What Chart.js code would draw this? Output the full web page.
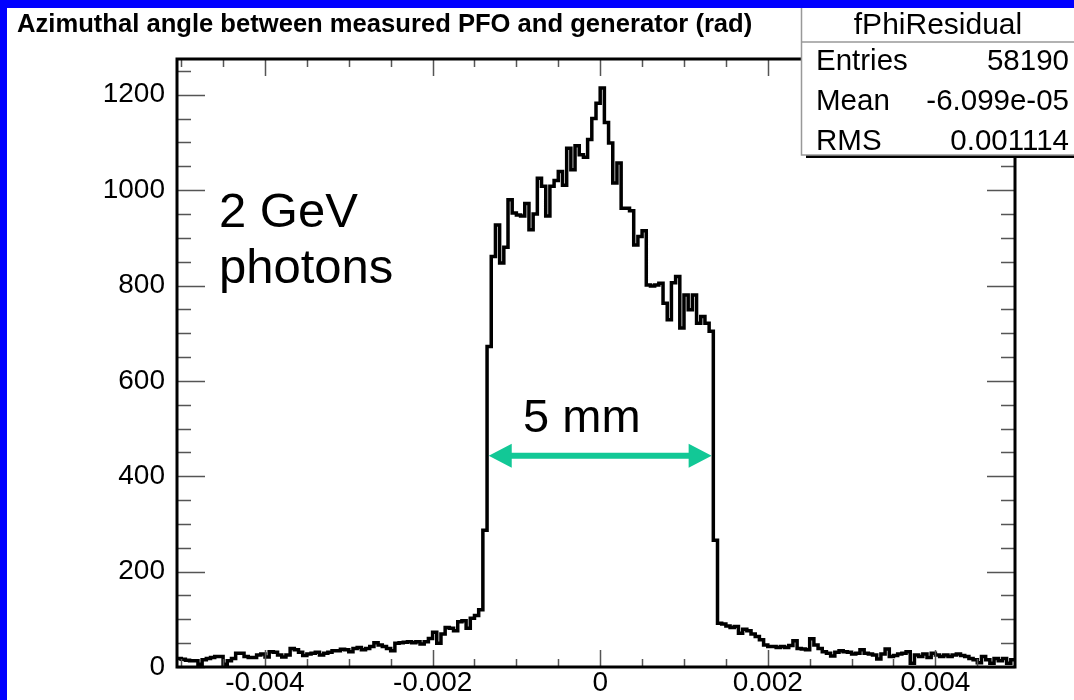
<!DOCTYPE html>
<html>
<head>
<meta charset="utf-8">
<script src="https://cdn.jsdelivr.net/npm/chart.js@4.4.1/dist/chart.umd.min.js"></script>
<style>
  html, body { margin: 0; padding: 0; background: #0000ff; }
  canvas { display: block; }
</style>
</head>
<body>
<canvas id="chart" width="1074" height="700"></canvas>
<script>
var ctx = document.getElementById('chart').getContext('2d');

// histogram binning: 200 bins of 0.00005 rad starting at -0.00505
var binLow = -0.00505;
var binWidth = 0.00005;

// bin contents, low tail / core / high tail
var tailLow = [18, 16, 14, 13, 13, 6, 15, 18, 20, 22, 22, 6, 13, 18, 29, 29, 22, 20, 20, 25,
  27, 21, 32, 31, 25, 21, 25, 39, 36, 31, 24, 27, 29, 31, 25, 29, 31, 34, 34, 37,
  36, 32, 39, 41, 36, 39, 43, 51, 46, 43, 39, 34, 50, 51, 52, 53, 51, 53, 48, 53,
  60, 73, 50, 69, 83, 81, 76, 95, 97, 81, 102, 108, 120, 287];
var core = [672, 861, 927, 847, 880, 980, 952, 948, 946, 972, 917, 950, 1025, 1008, 946, 1008,
  1020, 1039, 1010, 1088, 1043, 1093, 1074, 1069, 1106, 1150, 1182, 1214, 1142, 1099, 1015, 1057,
  962, 962, 957, 885, 903, 915, 801, 799, 801, 805, 763, 728, 806, 819, 711, 780, 749, 780,
  721, 735, 721, 704];
var tailHigh = [266, 92, 90, 86, 83, 85, 71, 79, 76, 69, 64, 57, 46, 43, 43, 41, 43, 41, 45, 55,
  39, 38, 36, 59, 46, 39, 32, 29, 23, 31, 34, 32, 31, 27, 29, 36, 29, 27, 25, 17,
  27, 38, 22, 24, 27, 29, 32, 8, 25, 22, 27, 20, 29, 25, 22, 25, 22, 25, 27, 24,
  22, 18, 15, 9, 22, 15, 8, 18, 13, 18, 8, 15];

var xTickValues = [-0.004, -0.002, 0, 0.002, 0.004];
var xTickLabels = ['-0.004', '-0.002', '0', '0.002', '0.004'];
var yTickValues = [0, 200, 400, 600, 800, 1000, 1200];
var yTickLabels = ['0', '200', '400', '600', '800', '1000', '1200'];

var statsTitle = 'fPhiResidual';
var statsNames = ['Entries', 'Mean', 'RMS'];
var statsValues = ['58190', '-6.099e-05', '0.001114'];

var titleText = 'Azimuthal angle between measured PFO and generator (rad)';
var noteLines = ['2 GeV', 'photons'];
var widthLabel = '5 mm';

var xMin = -0.00505, xMax = 0.00495, yMax = 1275;

var counts = tailLow.concat(core, tailHigh);

// outline of the histogram: left and right edge of each bin
var outline = [];
counts.forEach(function(v, i) {
  var lo = binLow + i * binWidth;
  outline.push({x: lo, y: v});
  outline.push({x: lo + binWidth, y: v});
});

var FONT = '"Liberation Sans", Arial, sans-serif';

var rootStyle = {
  id: 'rootStyle',
  beforeDraw: function(chart) {
    var c = chart.ctx;
    c.save();
    c.fillStyle = '#0000ff';
    c.fillRect(0, 0, chart.width, chart.height);
    c.fillStyle = '#ffffff';
    c.fillRect(7, 8, chart.width - 7, chart.height - 8);
    c.restore();
  },
  afterDatasetsDraw: function(chart) {
    var c = chart.ctx, a = chart.chartArea;
    var x = chart.scales.x, y = chart.scales.y;
    c.save();

    // inward ticks on all four sides
    c.strokeStyle = '#555';
    c.lineWidth = 1.5;
    c.beginPath();
    for (var v = 0; v <= yMax; v += 50) {
      var py = Math.round(y.getPixelForValue(v)) + 0.5;
      var len = (v % 200 === 0) ? 28 : 14;
      c.moveTo(a.left, py); c.lineTo(a.left + len, py);
      c.moveTo(a.right, py); c.lineTo(a.right - len, py);
    }
    for (var k = -10; k <= 9; k++) {
      var px = Math.round(x.getPixelForValue(k * 0.0005)) + 0.5;
      var l2 = (k % 4 === 0) ? 17 : 8;
      c.moveTo(px, a.bottom); c.lineTo(px, a.bottom - l2);
      c.moveTo(px, a.top); c.lineTo(px, a.top + l2);
    }
    c.stroke();

    // frame
    c.strokeStyle = '#000';
    c.lineWidth = 3;
    c.strokeRect(a.left, a.top, a.right - a.left, a.bottom - a.top);

    // title
    c.fillStyle = '#000';
    c.font = 'bold 25.6px ' + FONT;
    c.textAlign = 'left';
    c.textBaseline = 'alphabetic';
    c.fillText(titleText, 17, 32);

    // annotation text
    c.font = '49px ' + FONT;
    c.fillText(noteLines[0], x.getPixelForValue(-0.00455), y.getPixelForValue(922));
    c.fillText(noteLines[1], x.getPixelForValue(-0.00455), y.getPixelForValue(805));
    c.font = '47px ' + FONT;
    c.fillText(widthLabel, x.getPixelForValue(-0.00092), y.getPixelForValue(493));

    // double arrow across the plateau
    var ax0 = x.getPixelForValue(-0.00133), ax1 = x.getPixelForValue(0.00133);
    var ay = y.getPixelForValue(443);
    c.fillStyle = '#12c896';
    c.fillRect(ax0 + 20, ay - 3, ax1 - ax0 - 40, 6);
    c.beginPath();
    c.moveTo(ax0, ay); c.lineTo(ax0 + 23, ay - 12); c.lineTo(ax0 + 23, ay + 12); c.closePath();
    c.moveTo(ax1, ay); c.lineTo(ax1 - 23, ay - 12); c.lineTo(ax1 - 23, ay + 12); c.closePath();
    c.fill();

    // stats box
    var bx = 801, by = 8, bw = chart.width - bx, bh = 147;
    c.fillStyle = '#000';
    c.fillRect(bx + 5, by + bh, bw, 3);
    c.fillStyle = '#fff';
    c.fillRect(bx, by, bw, bh);
    c.strokeStyle = '#999';
    c.lineWidth = 1.5;
    c.beginPath();
    c.moveTo(bx + 0.5, by); c.lineTo(bx + 0.5, by + bh); c.lineTo(chart.width, by + bh);
    c.moveTo(bx, 42); c.lineTo(chart.width, 42);
    c.stroke();
    c.fillStyle = '#000';
    c.font = '30px ' + FONT;
    c.textAlign = 'center';
    c.fillText(statsTitle, 938, 34);
    c.font = '29.5px ' + FONT;
    var rows = [70, 110, 150];
    statsNames.forEach(function(n, i) {
      c.textAlign = 'left';
      c.fillText(n, 816, rows[i]);
      c.textAlign = 'right';
      c.fillText(statsValues[i], 1069, rows[i]);
    });

    c.restore();
  }
};

var config = {
  type: 'line',
  data: {
    datasets: [{
      data: outline,
      borderColor: '#000',
      borderWidth: 3.5,
      pointRadius: 0,
      fill: false,
      tension: 0,
      borderJoinStyle: 'miter'
    }]
  },
  options: {
    responsive: false,
    animation: false,
    devicePixelRatio: 1,
    events: [],
    layout: { padding: { left: 0, top: 59, right: 59, bottom: 0 } },
    plugins: { legend: { display: false }, tooltip: { enabled: false }, title: { display: false } },
    scales: {
      x: {
        type: 'linear',
        min: xMin,
        max: xMax,
        grid: { display: false },
        border: { display: false },
        afterBuildTicks: function(scale) {
          scale.ticks = xTickValues.map(function(v) { return {value: v}; });
        },
        afterFit: function(scale) { scale.height = 33; },
        ticks: {
          autoSkip: false,
          maxRotation: 0,
          padding: -9,
          color: '#000',
          font: { family: FONT, size: 28 },
          callback: function(v, i) { return xTickLabels[i]; }
        }
      },
      y: {
        type: 'linear',
        min: 0,
        max: yMax,
        grid: { display: false },
        border: { display: false },
        afterBuildTicks: function(scale) {
          scale.ticks = yTickValues.map(function(v) { return {value: v}; });
        },
        afterFit: function(scale) { scale.width = 177; },
        ticks: {
          autoSkip: false,
          padding: 4,
          color: '#000',
          font: { family: FONT, size: 28 },
          callback: function(v, i) { return yTickLabels[i]; }
        }
      }
    }
  },
  plugins: [rootStyle]
};

var myChart = new Chart(ctx, config);
</script>
</body>
</html>
